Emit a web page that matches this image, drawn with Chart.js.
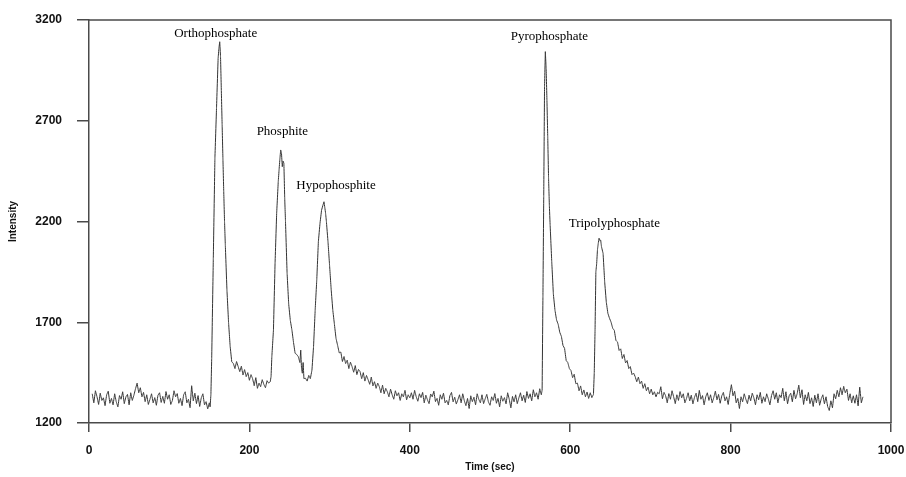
<!DOCTYPE html>
<html>
<head>
<meta charset="utf-8">
<script src="https://cdn.jsdelivr.net/npm/chart.js@4.4.0/dist/chart.umd.min.js"></script>
<style>
  html, body { margin: 0; padding: 0; background: #fff; }
  #wrap { width: 906px; height: 477px; }
</style>
</head>
<body>
<div id="wrap"><canvas id="grafico" width="906" height="477"></canvas></div>
<script>
// trace, [time (sec), intensity]
const baselineStart = [[4,1345],[6,1300],[8,1360],[10,1330],[12,1292],[14,1348],[16,1312],[18,1325],[20,1286],[22,1340],[24,1358],[26,1298],[28,1322],[30,1290],[32,1345],[34,1305],[36,1280],[38,1336],[40,1318],[42,1355],[44,1296],[46,1330],[48,1342],[50,1290],[52,1350],[54,1312],[56,1338],[58,1370],[60,1398],[62,1350],[64,1375],[66,1330],[68,1352],[70,1306],[72,1340],[74,1292],[76,1318],[78,1345],[80,1300],[82,1326],[84,1288],[86,1338],[88,1350],[90,1302],[92,1332],[94,1298],[96,1356],[98,1318],[100,1340],[102,1292],[104,1312],[106,1360],[108,1330],[110,1346],[112,1298],[114,1322],[116,1286],[118,1340],[120,1355],[122,1300],[124,1318],[126,1276],[128,1385],[130,1310],[132,1348],[134,1296],[136,1336],[138,1282],[140,1325],[142,1345],[144,1290],[146,1306],[148,1270],[150,1300]];

const orthoPeak = [[151,1280],[152,1340],[153,1521],[155,2017],[157,2514],[159,2762],[161,3010],[162,3060],[163,3092],[164,3020],[165,2850],[166,2680],[167,2510],[168,2348],[169,2200],[170,2080],[172,1860],[174,1700],[176,1580],[178,1504]];

const orthoTail = [[180,1495],[182,1470],[184,1505],[186,1480],[188,1455],[190,1482],[192,1438],[194,1465],[196,1430],[198,1450],[200,1412],[202,1440],[204,1420],[206,1385],[208,1425],[210,1372],[212,1398],[214,1380],[216,1415],[218,1392],[220,1375],[222,1410],[224,1398],[226,1405]];

const phosphitePeak = [[227,1430],[228,1530],[230,1662],[232,1993],[234,2241],[236,2400],[237,2456],[238,2510],[239,2555],[240,2540],[241,2472],[242,2500],[243,2489],[244,2320],[245,2200],[247,1943],[249,1790],[251,1710],[253,1662],[255,1600],[257,1546],[259,1540],[261,1529],[263,1500],[264,1562],[265,1470],[266,1447],[267,1500],[268,1420],[270,1422],[272,1408],[274,1436],[276,1420],[278,1463]];

const hypoPeak = [[280,1580],[282,1760],[284,1910],[286,2100],[288,2190],[290,2257],[292,2285],[293,2298],[294,2270],[295,2241],[296,2200],[298,2100],[300,1980],[302,1860],[304,1760],[306,1690],[308,1620],[310,1585],[312,1548],[314,1552],[316,1505],[318,1530],[320,1495],[322,1512],[324,1470],[326,1502],[328,1480],[330,1452],[332,1485],[334,1440],[336,1466],[338,1455],[340,1420],[342,1450],[344,1408],[346,1436],[348,1415],[350,1392],[352,1428],[354,1384],[356,1405],[358,1372],[360,1398],[362,1380],[364,1350],[366,1388],[368,1345],[370,1372],[372,1355],[374,1330],[376,1368],[378,1340],[380,1318],[382,1360],[384,1335],[386,1350],[388,1312],[390,1345],[392,1330],[394,1362],[396,1315],[398,1340],[400,1325]];

const midBaseline = [[402,1350],[404,1318],[406,1362],[408,1330],[410,1308],[412,1345],[414,1326],[416,1352],[418,1300],[420,1338],[422,1315],[424,1296],[426,1344],[428,1330],[430,1358],[432,1306],[434,1322],[436,1288],[438,1340],[440,1318],[442,1348],[444,1300],[446,1312],[448,1290],[450,1336],[452,1352],[454,1305],[456,1328],[458,1294],[460,1316],[462,1340],[464,1300],[466,1345],[468,1310],[470,1286],[472,1322],[474,1272],[476,1335],[478,1306],[480,1328],[482,1290],[484,1345],[486,1318],[488,1300],[490,1340],[492,1296],[494,1320],[496,1342],[498,1305],[500,1288],[502,1330],[504,1312],[506,1346],[508,1298],[510,1322],[512,1280],[514,1335],[516,1308],[518,1326],[520,1295],[522,1350],[524,1318],[526,1275],[528,1332],[530,1305],[532,1340],[534,1296],[536,1325],[538,1350],[540,1310],[542,1338],[544,1302],[546,1356],[548,1322],[550,1345],[552,1310],[554,1365],[556,1330],[558,1350],[560,1318],[562,1370],[564,1340]];

const pyroPeak = [[565,1364],[566,1827],[567,2323],[568,2869],[569,3043],[570,2960],[571,2800],[572,2620],[573,2420],[574,2280],[575,2180],[577,2000],[579,1840],[581,1760],[583,1711],[585,1690],[587,1650],[589,1630],[591,1585],[593,1570],[595,1510],[597,1500],[599,1470],[601,1460],[603,1425],[605,1442],[607,1395],[609,1398],[611,1360],[613,1384],[615,1340],[617,1364],[619,1330],[621,1354],[623,1322],[625,1350],[627,1326],[629,1342]];

const tripolyPeak = [[630,1450],[631,1663],[632,1950],[633,1990],[634,2060],[635,2092],[636,2117],[637,2105],[638,2108],[639,2075],[641,2042],[643,1900],[645,1800],[647,1744],[649,1720],[651,1700],[653,1670],[655,1660],[657,1610],[659,1602],[661,1560],[663,1568],[665,1520],[667,1540],[669,1498],[671,1510],[673,1470],[675,1480],[677,1440],[679,1448],[681,1430],[683,1405],[685,1428],[687,1395],[689,1408],[691,1372],[693,1395],[695,1360],[697,1378],[699,1345],[701,1368],[703,1340],[705,1355],[707,1330],[709,1352]];

const endBaseline = [[711,1345],[713,1380],[715,1320],[717,1352],[719,1335],[721,1300],[723,1346],[725,1318],[727,1360],[729,1330],[731,1296],[733,1340],[735,1312],[737,1356],[739,1325],[741,1345],[743,1300],[745,1322],[747,1350],[749,1310],[751,1338],[753,1295],[755,1328],[757,1348],[759,1306],[761,1362],[763,1318],[765,1336],[767,1290],[769,1330],[771,1350],[773,1312],[775,1340],[777,1300],[779,1326],[781,1358],[783,1315],[785,1342],[787,1298],[789,1335],[791,1352],[793,1310],[795,1330],[797,1292],[799,1345],[801,1390],[803,1335],[805,1358],[807,1300],[809,1322],[811,1272],[813,1330],[815,1305],[817,1345],[819,1318],[821,1296],[823,1338],[825,1310],[827,1348],[829,1325],[831,1290],[833,1340],[835,1315],[837,1352],[839,1298],[841,1330],[843,1306],[845,1345],[847,1320],[849,1290],[851,1336],[853,1360],[855,1318],[857,1350],[859,1300],[861,1340],[863,1326],[865,1372],[867,1310],[869,1355],[871,1295],[873,1335],[875,1348],[877,1305],[879,1362],[881,1320],[883,1345],[885,1388],[887,1325],[889,1365],[891,1292],[893,1340],[895,1310],[897,1352],[899,1296],[901,1325],[903,1282],[905,1338],[907,1300],[909,1345],[911,1288],[913,1320],[915,1340],[917,1295],[919,1330],[921,1282],[923,1262],[925,1310],[927,1275],[929,1345],[931,1320],[933,1362],[935,1330],[937,1375],[939,1340],[941,1382],[943,1350],[945,1368],[947,1312],[949,1345],[951,1300],[953,1335],[955,1298],[957,1340],[959,1285],[961,1378],[963,1300],[965,1330]];

// peak names and where their text sits (time, intensity of the text baseline)
const peakNames = ["Orthophosphate", "Phosphite", "Hypophosphite", "Pyrophosphate", "Tripolyphosphate"];
const labelTimes = [158, 241, 308, 574, 655];
const labelIntensities = [3115, 2630, 2360, 3100, 2175];

const xTicks = [0, 200, 400, 600, 800, 1000];
const yTicks = [1200, 1700, 2200, 2700, 3200];

const corEixo = "#4a4a4a";
const fonteTick = { family: '"Liberation Sans", Arial, sans-serif', size: 12, weight: "bold" };
const fonteTitulo = { family: '"Liberation Sans", Arial, sans-serif', size: 10, weight: "bold" };

const pontos = [
    ...baselineStart, ...orthoPeak, ...orthoTail, ...phosphitePeak, ...hypoPeak,
    ...midBaseline, ...pyroPeak, ...tripolyPeak, ...endBaseline
].map(([t, v]) => ({ x: t, y: v }));

// top and right sides of the box
const moldura = {
    id: "moldura",
    afterDraw(chart) {
        const { ctx, chartArea: a } = chart;
        ctx.save();
        ctx.strokeStyle = corEixo;
        ctx.lineWidth = 1.5;
        ctx.beginPath();
        ctx.moveTo(a.left, a.top);
        ctx.lineTo(a.right, a.top);
        ctx.lineTo(a.right, a.bottom);
        ctx.stroke();
        ctx.restore();
    }
};

const rotulosPicos = {
    id: "rotulosPicos",
    afterDatasetsDraw(chart) {
        const { ctx, scales } = chart;
        ctx.save();
        ctx.font = '13px "Liberation Serif", "Times New Roman", serif';
        ctx.fillStyle = "#000";
        ctx.textAlign = "center";
        ctx.textBaseline = "alphabetic";
        peakNames.forEach((nome, i) => {
            ctx.fillText(nome, scales.x.getPixelForValue(labelTimes[i]), scales.y.getPixelForValue(labelIntensities[i]));
        });
        ctx.restore();
    }
};

const ctx = document.getElementById("grafico").getContext("2d");

new Chart(ctx, {
    type: "line",
    data: {
        datasets: [{
            data: pontos,
            borderColor: "#333",
            borderWidth: 1,
            pointRadius: 0,
            tension: 0.0001, // keeps chart.js off the min/max fast path, so no stray vertical stubs
            fill: false
        }]
    },
    options: {
        responsive: false,
        animation: false,
        layout: { padding: { top: 20, right: 15, left: 0, bottom: 0 } },
        plugins: { legend: { display: false }, tooltip: { enabled: false } },
        scales: {
            x: {
                type: "linear",
                min: 0,
                max: 1000,
                afterBuildTicks: s => { s.ticks = xTicks.map(v => ({ value: v })); },
                ticks: { color: "#111", font: fonteTick, padding: 11, maxRotation: 0, callback: v => String(v) },
                grid: { drawOnChartArea: false, drawTicks: true, tickLength: 9, color: corEixo, lineWidth: 1.5 },
                border: { display: true, color: corEixo, width: 1.5 },
                title: { display: true, text: "Time (sec)", color: "#111", font: fonteTitulo, padding: { top: 0, bottom: 4 } },
                afterFit: s => { s.height = 54; s.paddingLeft = 0; s.paddingRight = 0; }
            },
            y: {
                min: 1200,
                max: 3200,
                afterBuildTicks: s => { s.ticks = yTicks.map(v => ({ value: v })); },
                ticks: { color: "#111", font: fonteTick, padding: 15, callback: v => String(v) },
                grid: { drawOnChartArea: false, drawTicks: true, tickLength: 12, color: corEixo, lineWidth: 1.5 },
                border: { display: true, color: corEixo, width: 1.5 },
                title: { display: true, text: "Intensity", color: "#111", font: fonteTitulo, padding: { top: 7, bottom: 0 } },
                afterFit: s => { s.width = 89; s.paddingTop = 0; s.paddingBottom = 0; }
            }
        }
    },
    plugins: [moldura, rotulosPicos]
});
</script>
</body>
</html>
